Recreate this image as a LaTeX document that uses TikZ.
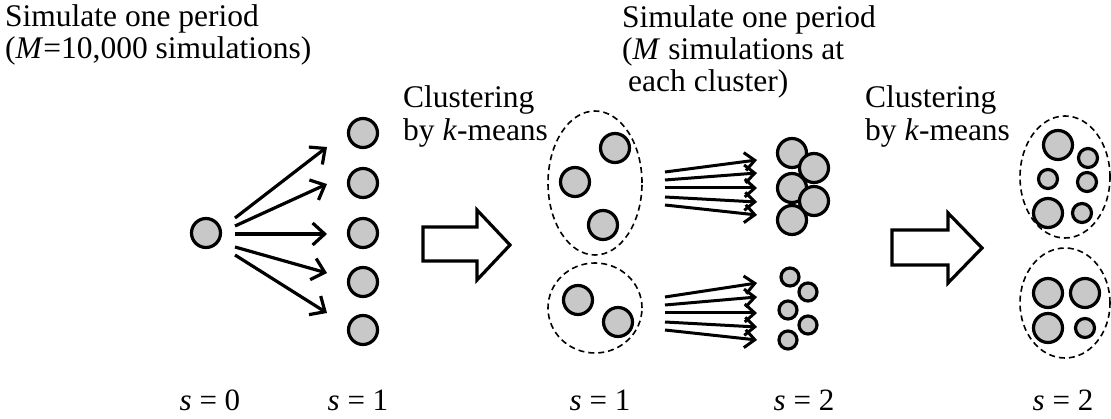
\documentclass[tikz,border=0pt]{standalone}
\usepackage{fontspec}
\setmainfont{Liberation Serif}
\usetikzlibrary{arrows.meta,shapes.geometric}
\definecolor{ballgray}{RGB}{200,200,200}
\begin{document}
\begin{tikzpicture}[x=1pt,y=-1pt,
  ball/.style={circle,draw,line width=3.2pt,fill=ballgray,inner sep=0pt,minimum size=#1},
  ball/.default=29pt,
  cluster/.style={ellipse,draw,dashed,dash pattern=on 6pt off 4pt,line width=1.6pt,inner sep=0pt},
  fan/.style={line width=3.2pt,-{Straight Barb[length=12pt,width=22pt]}},
  fanb/.style={line width=3pt,-{Straight Barb[length=10pt,width=18pt]}},
  blockarrow/.style={draw,line width=3.2pt,fill=white,line join=miter},
  lbl/.style={anchor=base west,inner sep=0pt,font=\fontsize{31.5}{33}\selectfont},
  slbl/.style={anchor=base,inner sep=0pt,font=\fontsize{31}{33}\selectfont}]
\useasboundingbox (0,0) rectangle (1111,419);

% texts
\node[lbl] (t1a) at (5,27) {Simulate one period};
\node[lbl] (t1b) at (5,59) {(\textit{M}=10,000 simulations)};
\node[lbl] (t2a) at (403,108) {Clustering};
\node[lbl] (t2b) at (403,141) {by \textit{k}-means};
\node[lbl] (t3a) at (622,28) {Simulate one period};
\node[lbl] (t3b) at (622,60) {(\textit{M} simulations at};
\node[lbl] (t3c) at (628,92) {each cluster)};
\node[lbl] (t4a) at (865,108) {Clustering};
\node[lbl] (t4b) at (865,141) {by \textit{k}-means};

\node[slbl] (s0)  at (210,410) {\textit{s} = 0};
\node[slbl] (s1a) at (358,410) {\textit{s} = 1};
\node[slbl] (s1b) at (600,410) {\textit{s} = 1};
\node[slbl] (s2a) at (804,410) {\textit{s} = 2};
\node[slbl] (s2b) at (1063,410) {\textit{s} = 2};

% stage 0 -> 1
\node[ball] (c0) at (206,233) {};
\node[ball] (r1) at (363,133) {};
\node[ball] (r2) at (363,183) {};
\node[ball] (r3) at (363,233) {};
\node[ball] (r4) at (363,282) {};
\node[ball] (r5) at (363,330) {};
\foreach \i/\ys/\ye in {1/218/147,2/226/184,3/234/234,4/247/273,5/255/313}{
  \coordinate (fs\i) at (235,\ys);
  \coordinate (fe\i) at (327,\ye);
  \draw[fan] (fs\i) -- (fe\i);
}

% block arrow 1
\path[blockarrow] (423,227) -- (477,227) -- (477,210) -- (510,245) -- (477,280) -- (477,261) -- (423,261) -- cycle;

% middle clusters
\node[cluster,minimum width=94pt,minimum height=144pt] (e1) at (595,183) {};
\node[cluster,minimum width=94pt,minimum height=90pt] (e2) at (595,308) {};
\node[ball=29pt] (m1) at (615,148) {};
\node[ball=29pt] (m2) at (575,182) {};
\node[ball=29pt] (m3) at (603,225) {};
\node[ball=29pt] (m4) at (578,300) {};
\node[ball=29pt] (m5) at (618,322) {};

% fans
\foreach \i/\ys/\ye in {1/172/160,2/180/173,3/188/188,4/197/202,5/205/215}{
  \coordinate (gs\i) at (665,\ys);
  \coordinate (ge\i) at (757,\ye);
  \draw[fanb] (gs\i) -- (ge\i);
}
\foreach \i/\ys/\ye in {1/297/283,2/305/297,3/313/313,4/322/327,5/330/340}{
  \coordinate (hs\i) at (665,\ys);
  \coordinate (he\i) at (757,\ye);
  \draw[fanb] (hs\i) -- (he\i);
}

% s=2 results
\node[ball=29pt] (a1) at (792,153) {};
\node[ball=29pt] (a2) at (792,188) {};
\node[ball=29pt] (a3) at (814,168) {};
\node[ball=29pt] (a4) at (814,201) {};
\node[ball=29pt] (a5) at (792,220) {};
\node[ball=18pt] (b1) at (790,277) {};
\node[ball=18pt] (b2) at (808,292) {};
\node[ball=18pt] (b3) at (788,310) {};
\node[ball=18pt] (b4) at (808,325) {};
\node[ball=18pt] (b5) at (788,340) {};

% block arrow 2
\path[blockarrow] (892,230) -- (948,230) -- (948,213) -- (982,248) -- (948,283) -- (948,265) -- (892,265) -- cycle;

% right clusters
\node[cluster,minimum width=90pt,minimum height=122pt] (e3) at (1065,177) {};
\node[cluster,minimum width=90pt,minimum height=110pt] (e4) at (1065,303) {};
\node[ball=29pt] (p1) at (1058,145) {};
\node[ball=19pt] (p2) at (1088,158) {};
\node[ball=19pt] (p3) at (1048,179) {};
\node[ball=19pt] (p4) at (1087,182) {};
\node[ball=29pt] (p5) at (1048,213) {};
\node[ball=19pt] (p6) at (1082,213) {};
\node[ball=29pt] (q1) at (1048,293) {};
\node[ball=29pt] (q2) at (1085,293) {};
\node[ball=29pt] (q3) at (1048,328) {};
\node[ball=19pt] (q4) at (1085,328) {};
\end{tikzpicture}
\end{document}
